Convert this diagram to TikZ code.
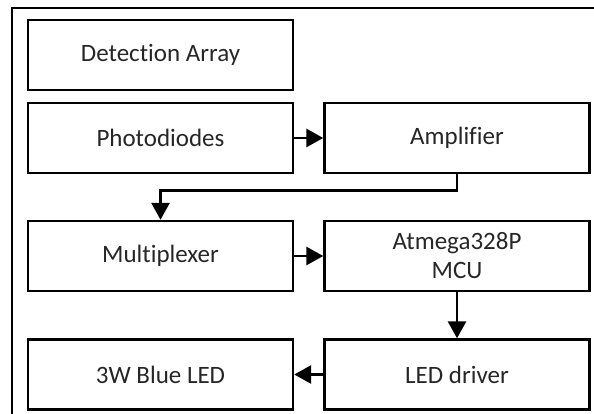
\documentclass[tikz,border=0pt]{standalone}
\usepackage{fontspec}
\setmainfont{Carlito}[Ligatures=CommonOff]
\usetikzlibrary{arrows.meta,positioning}
\begin{document}
\begin{tikzpicture}[x=1pt,y=-1pt,
  block/.style={draw=black,line width=2.4pt,minimum width=265pt,minimum height=70pt,
    inner sep=0pt,align=center,font=\fontsize{25}{29}\selectfont,text=black!85},
  link/.style={line width=2.8pt,-{Triangle[length=17pt,width=18pt]}},
  frame/.style={line width=1.8pt}]
  \useasboundingbox (0,0) rectangle (594,414);
  % outer enclosure (continues past the right and bottom edges)
  \coordinate (fbl) at (12,414);
  \coordinate (ftl) at (12,8);
  \coordinate (ftr) at (594,8);
  \draw[frame] (fbl) -- (ftl) -- (ftr);
  % blocks
  \node[block] (det)  at (160.5,55)  {Detection Array};
  \node[block] (pd)   at (160.5,138) {Photodiodes};
  \node[block] (amp)  at (457,138)   {Amplifier};
  \node[block] (mux)  at (160.5,256) {Multiplexer};
  \node[block] (mcu)  at (457,256)   {Atmega328P\\MCU};
  \node[block] (led)  at (160.5,374.5) {3W Blue LED};
  \node[block] (drv)  at (457,374.5) {LED driver};
  % connectors
  \draw[link] (pd) -- (amp);
  \draw[link] (amp.south) -- ++(0,16) -| (mux.north);
  \draw[link] (mux) -- (mcu);
  \draw[link] (mcu) -- (drv);
  \draw[link] (drv) -- (led);
\end{tikzpicture}
\end{document}
